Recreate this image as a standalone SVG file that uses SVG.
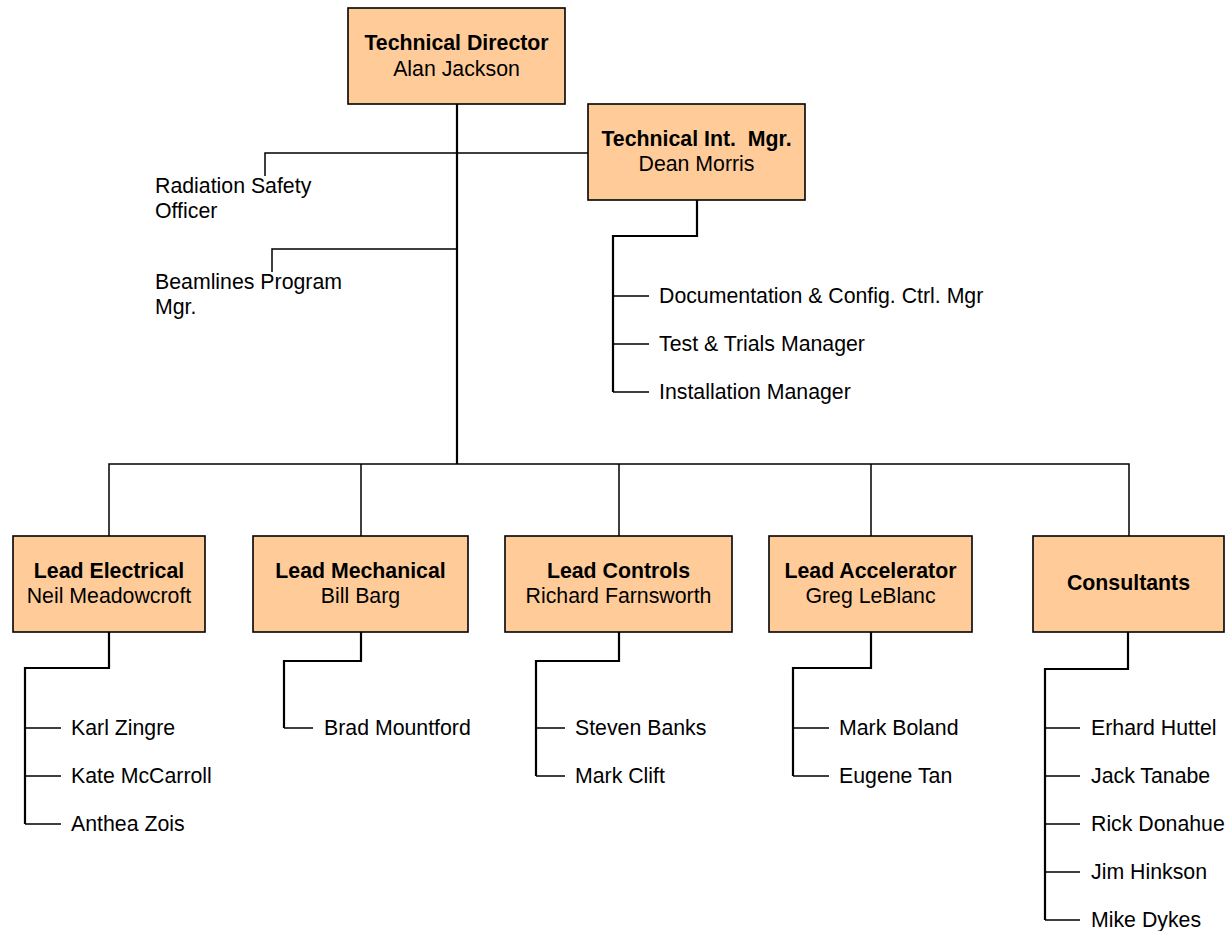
<svg xmlns="http://www.w3.org/2000/svg" width="1227" height="931" viewBox="0 0 1227 931">
<style>
  .box { fill: #FFCC99; stroke: #000; stroke-width: 1.6; }
  text { font-family: "Liberation Sans", Arial, sans-serif; font-size: 21.3px; fill: #000; }
  .t { font-weight: bold; text-anchor: middle; }
  .n { text-anchor: middle; }
  .ln { fill: none; stroke: #000; stroke-width: 1.5; }
  .tk { fill: none; stroke: #000; stroke-width: 2.2; }
</style>
<rect width="1227" height="931" fill="#fff"/>
<g id="connectors">
  <path class="tk" d="M457 104 V464"/>
  <path class="ln" d="M265 176 V153 H588"/>
  <path class="ln" d="M272 272 V249 H457"/>
  <path class="ln" d="M109 536 V464 H1129 V536 M361 464 V536 M619 464 V536 M871 464 V536"/>
  <path class="tk" d="M697 200 V236 H613 V392"/>
  <path class="ln" d="M613 296 H649 M613 344 H649 M613 392 H649"/>
  <path class="tk" d="M109 632 V668 H25 V824"/>
  <path class="ln" d="M25 728 H61 M25 776 H61 M25 824 H61"/>
  <path class="tk" d="M361 632 V661 H284 V728"/>
  <path class="ln" d="M284 728 H313"/>
  <path class="tk" d="M619 632 V661 H536 V776"/>
  <path class="ln" d="M536 728 H565 M536 776 H565"/>
  <path class="tk" d="M871 632 V668 H793 V776"/>
  <path class="ln" d="M793 728 H829 M793 776 H829"/>
  <path class="tk" d="M1128 632 V669 H1045 V920"/>
  <path class="ln" d="M1045 728 H1080 M1045 776 H1080 M1045 824 H1080 M1045 872 H1080 M1045 920 H1080"/>
</g>
<g id="technical-director">
  <rect class="box" x="348" y="8" width="217" height="96"/>
  <text class="t" x="456.5" y="49.5">Technical Director</text>
  <text class="n" x="456.5" y="75.5">Alan Jackson</text>
</g>
<g id="technical-int-mgr">
  <rect class="box" x="588" y="104" width="217" height="96"/>
  <text class="t" x="696.5" y="145.5" xml:space="preserve">Technical Int.  Mgr.</text>
  <text class="n" x="696.5" y="171">Dean Morris</text>
</g>
<g id="radiation-safety-officer">
  <text x="155" y="193">Radiation Safety</text>
  <text x="155" y="218">Officer</text>
</g>
<g id="beamlines-program-mgr">
  <text x="155" y="289">Beamlines Program</text>
  <text x="155" y="314">Mgr.</text>
</g>
<g id="tim-reports">
  <text x="659" y="303">Documentation &amp; Config. Ctrl. Mgr</text>
  <text x="659" y="351">Test &amp; Trials Manager</text>
  <text x="659" y="399">Installation Manager</text>
</g>
<g id="lead-electrical">
  <rect class="box" x="13" y="536" width="192" height="96"/>
  <text class="t" x="109" y="578">Lead Electrical</text>
  <text class="n" x="109" y="603">Neil Meadowcroft</text>
</g>
<g id="lead-mechanical">
  <rect class="box" x="253" y="536" width="215" height="96"/>
  <text class="t" x="360.5" y="578">Lead Mechanical</text>
  <text class="n" x="360.5" y="603">Bill Barg</text>
</g>
<g id="lead-controls">
  <rect class="box" x="505" y="536" width="227" height="96"/>
  <text class="t" x="618.5" y="578">Lead Controls</text>
  <text class="n" x="618.5" y="603">Richard Farnsworth</text>
</g>
<g id="lead-accelerator">
  <rect class="box" x="769" y="536" width="203" height="96"/>
  <text class="t" x="870.5" y="578">Lead Accelerator</text>
  <text class="n" x="870.5" y="603">Greg LeBlanc</text>
</g>
<g id="consultants">
  <rect class="box" x="1033" y="536" width="191" height="96"/>
  <text class="t" x="1128.5" y="590">Consultants</text>
</g>
<g id="electrical-staff">
  <text x="71" y="735">Karl Zingre</text>
  <text x="71" y="783">Kate McCarroll</text>
  <text x="71" y="831">Anthea Zois</text>
</g>
<g id="mechanical-staff">
  <text x="324" y="735">Brad Mountford</text>
</g>
<g id="controls-staff">
  <text x="575" y="735">Steven Banks</text>
  <text x="575" y="783">Mark Clift</text>
</g>
<g id="accelerator-staff">
  <text x="839" y="735">Mark Boland</text>
  <text x="839" y="783">Eugene Tan</text>
</g>
<g id="consultant-staff">
  <text x="1091" y="735">Erhard Huttel</text>
  <text x="1091" y="783">Jack Tanabe</text>
  <text x="1091" y="831">Rick Donahue</text>
  <text x="1091" y="879">Jim Hinkson</text>
  <text x="1091" y="927">Mike Dykes</text>
</g>
</svg>
